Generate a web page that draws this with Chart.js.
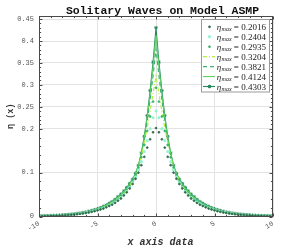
<!DOCTYPE html>
<html><head><meta charset="utf-8">
<script src="https://cdn.jsdelivr.net/npm/chart.js@4/dist/chart.umd.min.js"></script>
<style>html,body{margin:0;padding:0;background:#fff}canvas{display:block}</style>
</head><body>
<canvas id="c" width="301" height="248"></canvas>
<script>
const xValues = [-10,-9.75,-9.5,-9.25,-9,-8.75,-8.5,-8.25,-8,-7.75,-7.5,-7.25,-7,-6.75,-6.5,-6.25,-6,-5.75,-5.5,-5.25,-5,-4.75,-4.5,-4.25,-4,-3.75,-3.5,-3.25,-3,-2.75,-2.5,-2.25,-2,-1.75,-1.5,-1.25,-1,-0.75,-0.5,-0.25,0,0.25,0.5,0.75,1,1.25,1.5,1.75,2,2.25,2.5,2.75,3,3.25,3.5,3.75,4,4.25,4.5,4.75,5,5.25,5.5,5.75,6,6.25,6.5,6.75,7,7.25,7.5,7.75,8,8.25,8.5,8.75,9,9.25,9.5,9.75,10];

const etaMaxValues = ['0.2016','0.2404','0.2935','0.3204','0.3821','0.4124','0.4303'];

const eta2016 = [0.0009,0.0010,0.0012,0.0014,0.0016,0.0018,0.0021,0.0024,0.0027,0.0031,0.0036,0.0042,0.0047,0.0054,0.0062,0.0071,0.0082,0.0094,0.0107,0.0122,0.014,0.016,0.018,0.021,0.024,0.027,0.031,0.036,0.041,0.048,0.055,0.064,0.074,0.086,0.100,0.117,0.136,0.157,0.176,0.192,
0.2016,
0.192,0.176,0.157,0.136,0.117,0.100,0.086,0.074,0.064,0.055,0.048,0.041,0.036,0.031,0.027,0.024,0.021,0.018,0.016,0.014,0.0122,0.0107,0.0094,0.0082,0.0071,0.0062,0.0054,0.0047,0.0042,0.0036,0.0031,0.0027,0.0024,0.0021,0.0018,0.0016,0.0014,0.0012,0.0010,0.0009];

const eta2404 = [0.0009,0.0011,0.0013,0.0015,0.0017,0.0020,0.0022,0.0026,0.0029,0.0033,0.0038,0.0044,0.0050,0.0058,0.0066,0.0076,0.0087,0.0099,0.0114,0.0130,0.0149,0.017,0.0195,0.022,0.0255,0.029,0.033,0.038,0.043,0.050,0.057,0.066,0.077,0.090,0.106,0.125,0.148,0.173,0.200,0.225,
0.2404,
0.225,0.200,0.173,0.148,0.125,0.106,0.090,0.077,0.066,0.057,0.050,0.043,0.038,0.033,0.029,0.0255,0.022,0.0195,0.017,0.0149,0.0130,0.0114,0.0099,0.0087,0.0076,0.0066,0.0058,0.0050,0.0044,0.0038,0.0033,0.0029,0.0026,0.0022,0.0020,0.0017,0.0015,0.0013,0.0011,0.0009];

const eta2935 = [0.0010,0.0012,0.0013,0.0015,0.0018,0.0021,0.0023,0.0027,0.0031,0.0035,0.0041,0.0047,0.0053,0.0061,0.0070,0.0080,0.0092,0.0105,0.0121,0.0138,0.0158,0.0180,0.0207,0.0235,0.027,0.031,0.035,0.040,0.046,0.052,0.060,0.069,0.080,0.093,0.111,0.135,0.163,0.195,0.228,0.262,
0.2935,
0.262,0.228,0.195,0.163,0.135,0.111,0.093,0.080,0.069,0.060,0.052,0.046,0.040,0.035,0.031,0.027,0.0235,0.0207,0.0180,0.0158,0.0138,0.0121,0.0105,0.0092,0.0080,0.0070,0.0061,0.0053,0.0047,0.0041,0.0035,0.0031,0.0027,0.0023,0.0021,0.0018,0.0015,0.0013,0.0012,0.0010];

const eta3204 = [0.0010,0.0012,0.0014,0.0016,0.0018,0.0021,0.0024,0.0028,0.0031,0.0036,0.0041,0.0048,0.0054,0.0063,0.0072,0.0082,0.0094,0.0108,0.0123,0.0141,0.0161,0.0184,0.021,0.024,0.0275,0.0315,0.036,0.041,0.047,0.053,0.061,0.070,0.081,0.095,0.113,0.138,0.168,0.202,0.240,0.280,
0.3204,
0.280,0.240,0.202,0.168,0.138,0.113,0.095,0.081,0.070,0.061,0.053,0.047,0.041,0.036,0.0315,0.0275,0.024,0.021,0.0184,0.0161,0.0141,0.0123,0.0108,0.0094,0.0082,0.0072,0.0063,0.0054,0.0048,0.0041,0.0036,0.0031,0.0028,0.0024,0.0021,0.0018,0.0016,0.0014,0.0012,0.0010];

const eta3821 = [0.0010,0.0012,0.0014,0.0016,0.0019,0.0022,0.0025,0.0029,0.0032,0.0037,0.0043,0.0049,0.0056,0.0065,0.0074,0.0085,0.0097,0.0111,0.0127,0.0145,0.0166,0.0190,0.0218,0.0247,0.0285,0.0325,0.037,0.0425,0.0485,0.055,0.063,0.072,0.083,0.097,0.115,0.142,0.177,0.218,0.266,0.320,
0.3821,
0.320,0.266,0.218,0.177,0.142,0.115,0.097,0.083,0.072,0.063,0.055,0.0485,0.0425,0.037,0.0325,0.0285,0.0247,0.0218,0.0190,0.0166,0.0145,0.0127,0.0111,0.0097,0.0085,0.0074,0.0065,0.0056,0.0049,0.0043,0.0037,0.0032,0.0029,0.0025,0.0022,0.0019,0.0016,0.0014,0.0012,0.0010];

const eta4124 = [0.0011,0.0013,0.0015,0.0017,0.0019,0.0022,0.0025,0.0029,0.0033,0.0038,0.0044,0.0051,0.0058,0.0067,0.0076,0.0087,0.0100,0.0115,0.0131,0.0150,0.0172,0.0196,0.0225,0.0255,0.0294,0.0335,0.0383,0.044,0.050,0.057,0.065,0.074,0.084,0.098,0.116,0.144,0.180,0.225,0.279,0.340,
0.4124,
0.340,0.279,0.225,0.180,0.144,0.116,0.098,0.084,0.074,0.065,0.057,0.050,0.044,0.0383,0.0335,0.0294,0.0255,0.0225,0.0196,0.0172,0.0150,0.0131,0.0115,0.0100,0.0087,0.0076,0.0067,0.0058,0.0051,0.0044,0.0038,0.0033,0.0029,0.0025,0.0022,0.0019,0.0017,0.0015,0.0013,0.0011];

const eta4303 = [0.0011,0.0013,0.0015,0.0017,0.0020,0.0023,0.0026,0.0030,0.0034,0.0039,0.0045,0.0052,0.0059,0.0068,0.0078,0.0089,0.0102,0.0117,0.0134,0.0153,0.0175,0.020,0.023,0.026,0.030,0.034,0.039,0.045,0.051,0.058,0.066,0.075,0.085,0.098,0.117,0.145,0.183,0.230,0.287,0.352,
0.4303,
0.352,0.287,0.230,0.183,0.145,0.117,0.098,0.085,0.075,0.066,0.058,0.051,0.045,0.039,0.034,0.030,0.026,0.023,0.020,0.0175,0.0153,0.0134,0.0117,0.0102,0.0089,0.0078,0.0068,0.0059,0.0052,0.0045,0.0039,0.0034,0.0030,0.0026,0.0023,0.0020,0.0017,0.0015,0.0013,0.0011];

const yTickValues = [0, 0.1, 0.2, 0.25, 0.3, 0.35, 0.4, 0.45];
const xTickValues = [-10, -5, 0, 5, 10];
const titleText = 'Solitary Waves on Model ASMP';
const xTitleText = 'x axis data';
const yTitleText = 'η (x)';

const seriesValues = [eta2016, eta2404, eta2935, eta3204, eta3821, eta4124, eta4303];

// styles (kept separate from data)
const styles = [
  {color:'#35684c', showLine:false, pointStyle:'circle', pointRadius:0.9, dash:[]},
  {color:'#8ff5cf', showLine:false, pointStyle:'rect', pointRadius:1.3, dash:[]},
  {color:'#34b46a', showLine:false, pointStyle:'circle', pointRadius:0.9, dash:[]},
  {color:'#b2f03a', showLine:true, pointStyle:'circle', pointRadius:0, dash:[4,2,1,2]},
  {color:'#3cb371', showLine:true, pointStyle:'circle', pointRadius:0, dash:[4,3]},
  {color:'#5fd36a', showLine:true, pointStyle:'circle', pointRadius:0, dash:[]},
  {color:'#25885a', showLine:true, pointStyle:'star', pointRadius:1.8, dash:[]}
];

const datasets = seriesValues.map((vals, i) => ({
  label: 'ηmax = ' + etaMaxValues[i],
  data: vals.map((v, j) => ({x: xValues[j], y: v})),
  borderColor: styles[i].color,
  backgroundColor: styles[i].color,
  borderWidth: 1.1,
  borderDash: styles[i].dash,
  showLine: styles[i].showLine,
  pointStyle: styles[i].pointStyle,
  pointRadius: styles[i].pointRadius,
  pointBorderWidth: 0.9,
  pointBorderColor: styles[i].color,
  pointBackgroundColor: styles[i].color,
  fill: false,
  tension: 0
}));

const MONO = '"Liberation Mono", "Courier New", monospace';
const SERIF = '"Liberation Serif", "DejaVu Serif", serif';

const decorPlugin = {
  id: 'decor',
  afterDraw(chart) {
    const {ctx, chartArea: a, scales: {x, y}} = chart;
    ctx.save();
    const L = Math.round(a.left) + 0.5, R = Math.round(a.right) - 0.5;
    const T = Math.round(a.top) + 0.5, B = Math.round(a.bottom) - 0.5;
    ctx.strokeStyle = '#4a4a4a';
    ctx.lineWidth = 1;
    ctx.strokeRect(L, T, R - L, B - T);
    ctx.beginPath();
    // y ticks (major + 4 minor per interval)
    for (let i = 0; i < yTickValues.length; i++) {
      const py = Math.round(y.getPixelForValue(yTickValues[i])) + 0.5;
      ctx.moveTo(L, py); ctx.lineTo(L + 3, py);
      ctx.moveTo(R, py); ctx.lineTo(R - 3, py);
      if (i < yTickValues.length - 1) {
        const step = (yTickValues[i + 1] - yTickValues[i]) / 5;
        for (let k = 1; k < 5; k++) {
          const p2 = Math.round(y.getPixelForValue(yTickValues[i] + k * step)) + 0.5;
          ctx.moveTo(L, p2); ctx.lineTo(L + 1.6, p2);
          ctx.moveTo(R, p2); ctx.lineTo(R - 1.6, p2);
        }
      }
    }
    // x ticks
    for (let i = 0; i < xTickValues.length; i++) {
      const px = Math.round(x.getPixelForValue(xTickValues[i])) + 0.5;
      ctx.moveTo(px, B); ctx.lineTo(px, B - 3);
      ctx.moveTo(px, T); ctx.lineTo(px, T + 3);
      if (i < xTickValues.length - 1) {
        const step = (xTickValues[i + 1] - xTickValues[i]) / 5;
        for (let k = 1; k < 5; k++) {
          const p2 = Math.round(x.getPixelForValue(xTickValues[i] + k * step)) + 0.5;
          ctx.moveTo(p2, B); ctx.lineTo(p2, B - 1.6);
          ctx.moveTo(p2, T); ctx.lineTo(p2, T + 1.6);
        }
      }
    }
    ctx.stroke();

    // title
    const cx = (a.left + a.right) / 2;
    ctx.fillStyle = '#111';
    ctx.font = 'bold 11.5px ' + MONO;
    ctx.textAlign = 'center';
    ctx.textBaseline = 'middle';
    ctx.fillText(titleText, cx + 6.5, 11);

    // x title
    ctx.font = 'italic bold 10px ' + MONO;
    ctx.fillStyle = '#333';
    ctx.fillText(xTitleText, cx + 4.5, 242.5);

    // y title
    ctx.save();
    ctx.translate(11, (a.top + a.bottom) / 2);
    ctx.rotate(-Math.PI / 2);
    ctx.font = 'bold 8.5px ' + MONO;
    ctx.fillText(yTitleText, 0, 0);
    ctx.restore();

    // legend
    const bx = 201.5, by = 19.5, bw = 68, bh = 72.5;
    ctx.fillStyle = '#fff';
    ctx.fillRect(bx, by, bw, bh);
    ctx.strokeStyle = '#9a9a9a';
    ctx.lineWidth = 1;
    ctx.strokeRect(bx, by, bw, bh);
    chart.data.datasets.forEach((ds, i) => {
      const ry = 26.8 + i * 9.95;
      ctx.save();
      if (ds.showLine !== false) {
        ctx.strokeStyle = ds.borderColor;
        ctx.lineWidth = ds.borderWidth;
        ctx.setLineDash(ds.borderDash || []);
        ctx.beginPath();
        ctx.moveTo(203, ry); ctx.lineTo(215, ry);
        ctx.stroke();
        ctx.setLineDash([]);
      }
      if (ds.pointRadius > 0) {
        ctx.fillStyle = ds.pointBackgroundColor;
        ctx.strokeStyle = ds.pointBorderColor;
        Chart.helpers.drawPoint(ctx, {pointStyle: ds.pointStyle, radius: ds.pointRadius, borderWidth: ds.pointBorderWidth, rotation: 0}, 209.5, ry);
      }
      ctx.restore();
      // text: η_max = value
      ctx.fillStyle = '#1a1a1a';
      ctx.textAlign = 'left';
      ctx.textBaseline = 'alphabetic';
      let tx = 216.8;
      const base = ry + 3;
      ctx.font = 'italic 9px ' + SERIF;
      ctx.fillText('η', tx, base);
      tx += ctx.measureText('η').width + 0.3;
      ctx.font = 'italic 6px ' + SERIF;
      ctx.fillText('max', tx, base + 1.6);
      tx += ctx.measureText('max').width;
      ctx.font = '9px ' + SERIF;
      ctx.fillText(' = ' + etaMaxValues[i], tx, base);
    });
    ctx.restore();
  }
};

new Chart(document.getElementById('c'), {
  type: 'line',
  data: {datasets},
  options: {
    responsive: false,
    animation: false,
    devicePixelRatio: 1,
    layout: {padding: {left: 0, right: 28, top: 16, bottom: 0}},
    plugins: {legend: {display: false}, title: {display: false}, tooltip: {enabled: false}},
    scales: {
      x: {
        type: 'linear', min: -10, max: 10,
        afterBuildTicks(s) { s.ticks = xTickValues.map(v => ({value: v})); },
        afterFit(s) { s.height = 31.5; s.paddingLeft = 0; s.paddingRight = 0; },
        grid: {color: '#e3e3e3', drawTicks: false, lineWidth: 1},
        border: {display: false},
        ticks: {autoSkip: false, minRotation: 30, maxRotation: 30, padding: 3, color: '#555',
                font: {family: MONO, size: 7}, callback: v => String(v)}
      },
      y: {
        min: 0, max: 0.457,
        afterBuildTicks(s) { s.ticks = yTickValues.map(v => ({value: v})); },
        afterFit(s) { s.width = 39; s.paddingTop = 0; s.paddingBottom = 0; },
        grid: {color: '#e3e3e3', drawTicks: false, lineWidth: 1},
        border: {display: false},
        ticks: {padding: 5, color: '#555', font: {family: MONO, size: 7},
                callback: v => String(+Number(v).toFixed(2))}
      }
    }
  },
  plugins: [decorPlugin]
});
</script>
</body></html>
